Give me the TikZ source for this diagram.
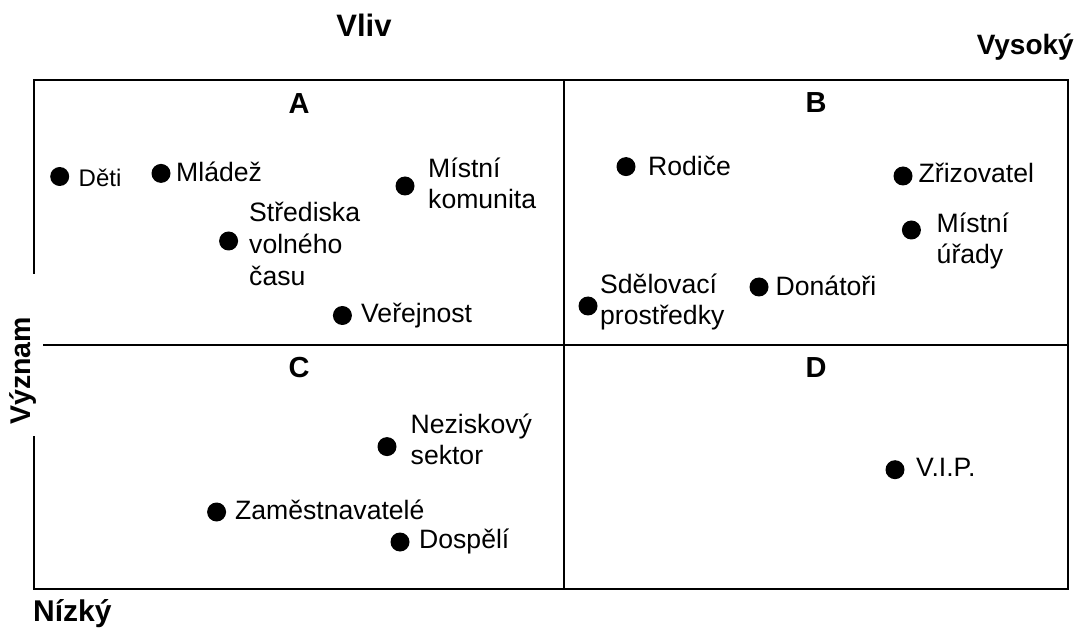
\documentclass[tikz,border=0pt]{standalone}
\usepackage{fontspec}
\setmainfont{Liberation Sans}
\begin{document}
\begin{tikzpicture}[x=1pt,y=-1pt,
  frame/.style={line width=2.2pt, line cap=butt, line join=miter},
  dot/.style={circle, fill=black, inner sep=0pt, minimum size=19pt},
  lbl/.style={anchor=north west, inner sep=0pt, yshift=21.7pt, align=left,
              font=\fontsize{26.6}{31}\selectfont},
  quad/.style={anchor=base, inner sep=0pt, font=\fontsize{29}{33}\selectfont\bfseries},
  axis/.style={inner sep=0pt, font=\bfseries}]
\useasboundingbox (0,0) rectangle (1082,628);

% frame
\coordinate (gTop) at (34,274);
\coordinate (gBot) at (34,436);
\coordinate (tl) at (34,80);
\coordinate (tr) at (1068,80);
\coordinate (br) at (1068,589);
\coordinate (bl) at (34,589);
\coordinate (mt) at (564,80);
\coordinate (mb) at (564,589);
\coordinate (ml) at (43,345);
\coordinate (mr) at (1068,345);
\draw[frame] (gTop) -- (tl) -- (tr) -- (br) -- (bl) -- (gBot);
\draw[frame] (mt) -- (mb);
\draw[frame] (ml) -- (mr);

% axis labels
\node[axis, anchor=base, font=\fontsize{31}{35}\selectfont\bfseries] (vliv) at (364,36.7) {Vliv};
\node[axis, anchor=base east, font=\fontsize{28}{32}\selectfont\bfseries] (vysoky) at (1074,55) {Vysoký};
\node[axis, anchor=base west, font=\fontsize{30}{34}\selectfont\bfseries] (nizky) at (33,621) {Nízký};
\node[axis, anchor=center, rotate=90, font=\fontsize{28.5}{32}\selectfont\bfseries] (vyznam) at (23,371) {Význam};

% quadrant letters
\node[quad] (qA) at (299,113.5) {A};
\node[quad] (qB) at (816,113) {B};
\node[quad] (qC) at (299,377.5) {C};
\node[quad] (qD) at (816,377.5) {D};

% quadrant A
\node[dot] (dDeti) at (59.7,176.5) {};
\node[lbl, yshift=-1.7pt, font=\fontsize{24}{29}\selectfont] (tDeti) at (78.5,186) {\strut Děti};
\node[dot] (dMladez) at (161,173.4) {};
\node[lbl] (tMladez) at (176,181) {\strut Mládež};
\node[dot] (dKom) at (405,186) {};
\node[lbl] (tKom) at (428,177.6) {\strut Místní\\komunita};
\node[dot] (dStr) at (228.6,241) {};
\node[lbl, font=\fontsize{26.6}{32}\selectfont] (tStr) at (249,220.7) {\strut Střediska\\volného\\času};
\node[dot] (dVer) at (342.4,315.5) {};
\node[lbl] (tVer) at (361,322) {\strut Veřejnost};

% quadrant B
\node[dot] (dRod) at (626,166.6) {};
\node[lbl] (tRod) at (648,175) {\strut Rodiče};
\node[dot] (dZriz) at (903,176) {};
\node[lbl] (tZriz) at (918.5,182) {\strut Zřizovatel};
\node[dot] (dUrad) at (911.4,230) {};
\node[lbl] (tUrad) at (936.5,232.8) {\strut Místní\\úřady};
\node[dot] (dSdel) at (588,306) {};
\node[lbl] (tSdel) at (600,293) {\strut Sdělovací\\prostředky};
\node[dot] (dDon) at (759,287) {};
\node[lbl] (tDon) at (775.5,295) {\strut Donátoři};

% quadrant C
\node[dot] (dNez) at (387,446.6) {};
\node[lbl] (tNez) at (410.5,432.8) {\strut Neziskový\\sektor};
\node[dot] (dZam) at (216.6,512) {};
\node[lbl] (tZam) at (235,519) {\strut Zaměstnavatelé};
\node[dot] (dDosp) at (400,542) {};
\node[lbl] (tDosp) at (419,548) {\strut Dospělí};

% quadrant D
\node[dot] (dVip) at (895,469.7) {};
\node[lbl] (tVip) at (916,476.5) {\strut V.I.P.};
\end{tikzpicture}
\end{document}
